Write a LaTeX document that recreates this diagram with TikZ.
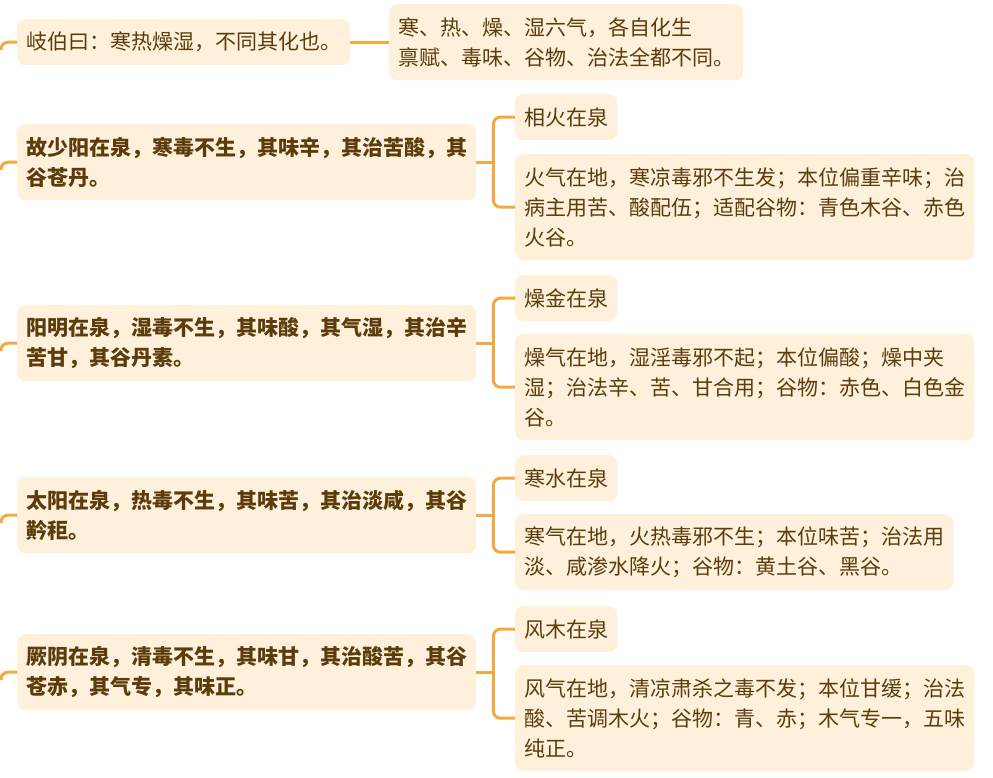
\documentclass[tikz,border=0pt]{standalone}
\usepackage{fontspec}
\setmainfont{Noto Sans CJK SC}
\usetikzlibrary{positioning}
\definecolor{peach}{RGB}{254,240,218}
\definecolor{ink}{RGB}{92,60,12}
\definecolor{amber}{RGB}{244,169,64}

\begin{document}
\begin{tikzpicture}[x=1pt, y=-1pt,
      box/.style={fill=peach, rounded corners=8pt, anchor=north west, align=left,
                  inner xsep=9pt, inner ysep=0pt, text=ink,
                  font=\fontsize{21}{30}\selectfont},
      key/.style={box, font=\fontsize{21}{30}\selectfont\bfseries},
      one/.style={minimum height=46pt},
      two/.style={minimum height=76pt},
      three/.style={minimum height=106pt},
      link/.style={draw=amber, line width=3pt},
      elbow/.style={link, rounded corners=7pt}]

    \useasboundingbox (0,0) rectangle (993,778);

    % first row
    \node[box, one] (q0) at (17,19) {岐伯曰：寒热燥湿，不同其化也。};
    \node[box, two] (a0) at (389,4) {寒、热、燥、湿六气，各自化生\\禀赋、毒味、谷物、治法全都不同。};

    % shaoyang
    \node[key, two] (q1) at (17,124) {故少阳在泉，寒毒不生，其味辛，其治苦酸，其\\谷苍丹。};
    \node[box, one] (t1) at (515,94) {相火在泉};
    \node[box, three] (d1) at (515,154) {火气在地，寒凉毒邪不生发；本位偏重辛味；治\\病主用苦、酸配伍；适配谷物：青色木谷、赤色\\火谷。};

    % yangming
    \node[key, two] (q2) at (17,305) {阳明在泉，湿毒不生，其味酸，其气湿，其治辛\\苦甘，其谷丹素。};
    \node[box, one] (t2) at (515,275) {燥金在泉};
    \node[box, three] (d2) at (515,334) {燥气在地，湿淫毒邪不起；本位偏酸；燥中夹\\湿；治法辛、苦、甘合用；谷物：赤色、白色金\\谷。};

    % taiyang
    \node[key, two] (q3) at (17,477) {太阳在泉，热毒不生，其味苦，其治淡咸，其谷\\黅秬。};
    \node[box, one] (t3) at (515,455) {寒水在泉};
    \node[box, two] (d3) at (515,514) {寒气在地，火热毒邪不生；本位味苦；治法用\\淡、咸渗水降火；谷物：黄土谷、黑谷。};

    % jueyin
    \node[key, two] (q4) at (17,634) {厥阴在泉，清毒不生，其味甘，其治酸苦，其谷\\苍赤，其气专，其味正。};
    \node[box, one] (t4) at (515,606) {风木在泉};
    \node[box, three] (d4) at (515,665) {风气在地，清凉肃杀之毒不发；本位甘缓；治法\\酸、苦调木火；谷物：青、赤；木气专一，五味\\纯正。};

    % stubs from the left edge
    \coordinate (s0) at (1,50);
    \coordinate (s1) at (1,170);
    \coordinate (s2) at (1,351);
    \coordinate (s3) at (1,523);
    \coordinate (s4) at (1,680);
    \draw[elbow] (s0) |- (q0.west);
    \draw[elbow] (s1) |- (q1.west);
    \draw[elbow] (s2) |- (q2.west);
    \draw[elbow] (s3) |- (q3.west);
    \draw[elbow] (s4) |- (q4.west);

    % branches
    \draw[link] (q0.east) -- (a0.west);

    \coordinate (k1) at ([xshift=17pt]q1.east);
    \draw[link] (q1.east) -- (k1);
    \draw[elbow] (k1) |- (t1.west);
    \draw[elbow] (k1) |- (d1.west);

    \coordinate (k2) at ([xshift=17pt]q2.east);
    \draw[link] (q2.east) -- (k2);
    \draw[elbow] (k2) |- (t2.west);
    \draw[elbow] (k2) |- (d2.west);

    \coordinate (k3) at ([xshift=17pt]q3.east);
    \draw[link] (q3.east) -- (k3);
    \draw[elbow] (k3) |- (t3.west);
    \draw[elbow] (k3) |- (d3.west);

    \coordinate (k4) at ([xshift=17pt]q4.east);
    \draw[link] (q4.east) -- (k4);
    \draw[elbow] (k4) |- (t4.west);
    \draw[elbow] (k4) |- (d4.west);
  \end{tikzpicture}
\end{document}
